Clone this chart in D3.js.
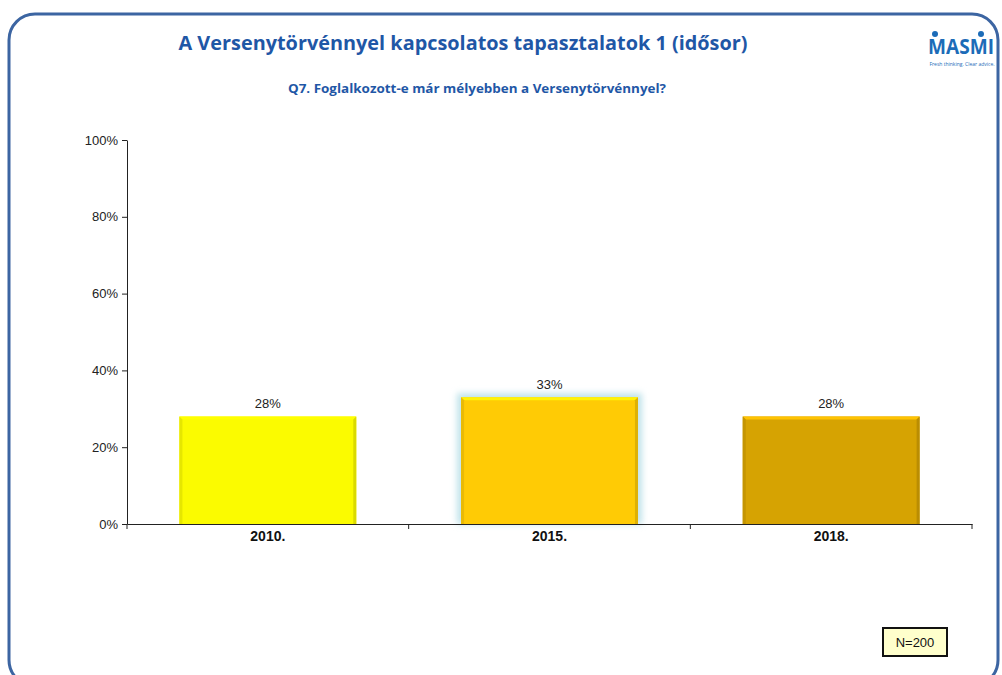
<!DOCTYPE html>
<html><head><meta charset="utf-8">
<script src="https://cdn.jsdelivr.net/npm/d3@7/dist/d3.min.js"></script>
<style>body{margin:0;background:#fff;}svg{display:block;}</style>
</head><body>
<svg id="c" width="1002" height="675"></svg>
<script>
const categories = ["2010.", "2015.", "2018."];
const values = [28, 33, 28];
const valueLabels = ["28%", "33%", "28%"];
const barColors = ["#fbfb00", "#ffcb05", "#d6a302"];
const yTicks = [0, 20, 40, 60, 80, 100];
const title = "A Versenytörvénnyel kapcsolatos tapasztalatok 1 (idősor)";
const subtitle = "Q7. Foglalkozott-e már mélyebben a Versenytörvénnyel?";
const nLabel = "N=200";

const svg = d3.select("#c");
const defs = svg.append("defs");

// frame
svg.append("rect").attr("x", 9).attr("y", 14).attr("width", 989).attr("height", 672)
  .attr("rx", 26).attr("ry", 26)
  .attr("fill", "none").attr("stroke", "#3c65a2").attr("stroke-width", 3);

// title
svg.append("text").attr("x", 463).attr("y", 50).attr("text-anchor", "middle")
  .attr("font-family", "Open Sans, sans-serif").attr("font-weight", "bold")
  .attr("font-size", 19).attr("fill", "#1f57a6").attr("textLength", 569).attr("lengthAdjust","spacingAndGlyphs").text(title);
svg.append("text").attr("x", 477).attr("y", 93).attr("text-anchor", "middle")
  .attr("font-family", "Open Sans, sans-serif").attr("font-weight", "bold")
  .attr("font-size", 11.5).attr("fill", "#1f57a6").attr("textLength", 378).attr("lengthAdjust","spacingAndGlyphs").text(subtitle);

// logo
svg.append("text").attr("x", 961).attr("y", 54).attr("text-anchor", "middle")
  .attr("font-family", "Open Sans, sans-serif").attr("font-weight", "bold")
  .attr("font-size", 21).attr("fill", "#1c6cb8").attr("textLength", 66).attr("lengthAdjust","spacingAndGlyphs").text("MASMI");
svg.append("circle").attr("cx", 935).attr("cy", 34).attr("r", 3).attr("fill", "#1c6cb8");
svg.append("circle").attr("cx", 981).attr("cy", 34).attr("r", 3).attr("fill", "#1c6cb8");
svg.append("text").attr("x", 962).attr("y", 66).attr("text-anchor", "middle")
  .attr("font-family", "Open Sans, sans-serif").attr("font-size", 5).attr("fill", "#1c6cb8")
  .text("Fresh thinking. Clear advice.");

// scales
const x = d3.scaleBand().domain(categories).range([127, 972]).paddingInner(0.372).paddingOuter(0.186);
const y = d3.scaleLinear().domain([0, 100]).range([524, 140]);

const glow = defs.append("filter").attr("id", "glow").attr("x", "-10%").attr("y", "-10%").attr("width", "120%").attr("height", "120%");
glow.append("feGaussianBlur").attr("stdDeviation", 3);

// axes
const yAxis = svg.append("g").attr("transform", "translate(127,0)")
  .call(d3.axisLeft(y).tickValues(yTicks).tickFormat(d => d + "%").tickSize(5).tickSizeOuter(0));
yAxis.select(".domain").attr("stroke", "#222");
yAxis.selectAll(".tick line").attr("stroke", "#222");
yAxis.selectAll("text").attr("font-family", "Liberation Sans, Arial, sans-serif").attr("font-size", 13).attr("fill", "#222").attr("x", -9);

const xAxis = svg.append("g").attr("transform", "translate(0,524)")
  .call(d3.axisBottom(x).tickSize(0).tickSizeOuter(0));
xAxis.select(".domain").attr("stroke", "#222");
xAxis.selectAll("text").attr("font-family", "Liberation Sans, Arial, sans-serif").attr("font-size", 14)
  .attr("font-weight", "bold").attr("fill", "#111").attr("dy", "1em");
const step = x.step();
const bounds = [127, 127 + step, 127 + 2 * step, 972];
svg.append("g").selectAll("line").data(bounds).join("line")
  .attr("x1", d => d).attr("x2", d => d).attr("y1", 524).attr("y2", 529).attr("stroke", "#222");

// bars
const g = svg.append("g");
categories.forEach((c, i) => {
  const x0 = x(c), w = x.bandwidth(), y0 = y(values[i]), h = y(0) - y(values[i]);
  const col = d3.color(barColors[i]);
  if (i === 1) {
    g.append("rect").attr("x", x0 - 4).attr("y", y0 - 4).attr("width", w + 8).attr("height", h + 4)
      .attr("fill", "#bfe3ea").attr("filter", "url(#glow)");
  }
  g.append("rect").attr("x", x0).attr("y", y0).attr("width", w).attr("height", h).attr("fill", col.formatHex());
  const b = 3;
  g.append("path").attr("d", `M${x0},${y0} L${x0 + w},${y0} L${x0 + w - b},${y0 + b} L${x0 + b},${y0 + b} Z`)
    .attr("fill", col.brighter(0.5).formatHex());
  g.append("path").attr("d", `M${x0},${y0} L${x0 + b},${y0 + b} L${x0 + b},${y0 + h} L${x0},${y0 + h} Z`)
    .attr("fill", col.darker(0.25).formatHex());
  g.append("path").attr("d", `M${x0 + w},${y0} L${x0 + w - b},${y0 + b} L${x0 + w - b},${y0 + h} L${x0 + w},${y0 + h} Z`)
    .attr("fill", col.darker(0.4).formatHex());
  g.append("text").attr("x", x0 + w / 2).attr("y", y0 - 8).attr("text-anchor", "middle")
    .attr("font-family", "Liberation Sans, Arial, sans-serif").attr("font-size", 13).attr("fill", "#222")
    .text(valueLabels[i]);
});
xAxis.raise();

// N box
svg.append("rect").attr("x", 883).attr("y", 628).attr("width", 64).attr("height", 28)
  .attr("fill", "#ffffcc").attr("stroke", "#111").attr("stroke-width", 2);
svg.append("text").attr("x", 915).attr("y", 647).attr("text-anchor", "middle")
  .attr("font-family", "Liberation Sans, Arial, sans-serif").attr("font-size", 13).attr("fill", "#111").text(nLabel);
</script>
</body></html>
